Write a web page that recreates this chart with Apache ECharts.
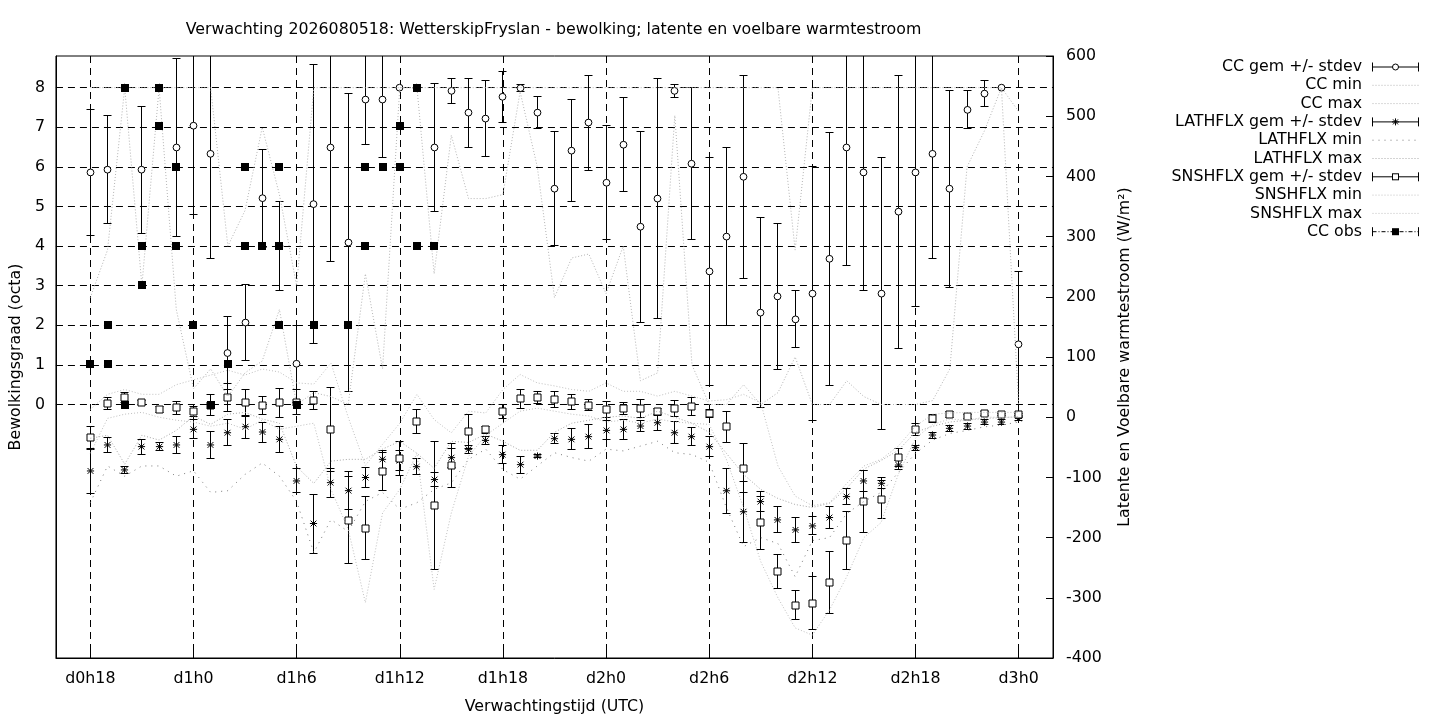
<!DOCTYPE html>
<html>
<head>
<meta charset="utf-8">
<script src="https://cdn.jsdelivr.net/npm/echarts@6/dist/echarts.min.js"></script>
<style>
html,body{margin:0;padding:0;background:#fff;}
#chart{width:1440px;height:720px;}
</style>
</head>
<body>
<div id="chart"></div>
<script>
// ---------------- DATA ----------------
const titleText = 'Verwachting 2026080518: WetterskipFryslan - bewolking; latente en voelbare warmtestroom';
const hours = [18,19,20,21,22,23,24,25,26,27,28,29,30,31,32,33,34,35,36,37,38,39,40,41,42,43,44,45,
  46,47,48,49,50,51,52,53,54,55,56,57,58,59,60,61,62,63,64,65,66,67,68,69,70,71,72];
const xTickHours = [18,24,30,36,42,48,54,60,66,72];
const leftTicks = [0,1,2,3,4,5,6,7,8];

const ccMean = [5.86,5.93,8.00,5.93,8.00,6.49,7.04,6.33,1.30,2.07,
  5.21,4.00,1.03,5.06,6.49,4.09,7.70,7.70,8.00,8.00,
  6.49,7.92,7.37,7.22,7.77,7.99,7.37,5.45,6.41,7.12,
  5.60,6.56,4.49,5.20,7.92,6.08,3.36,4.24,5.75,2.32,
  2.73,2.15,2.80,3.68,6.49,5.86,2.80,4.87,5.86,6.33,
  5.45,7.44,7.85,8.00,1.52];
const ccStd = [1.60,1.36,0,1.60,0,2.25,2.24,2.64,0.92,0.96,
  1.24,1.12,0.97,3.52,2.87,3.76,1.14,1.47,0,0,
  1.62,0.32,0.87,0.97,0.65,0.08,0.40,1.44,1.29,1.20,
  1.44,1.19,2.41,3.04,0.17,1.92,2.87,2.24,2.56,2.39,
  1.85,0.72,3.20,3.20,2.98,2.97,3.43,3.45,3.39,2.64,
  2.49,0.48,0.33,0,1.85];
const ccMin = [2.7,3.9,8.0,3.0,8.0,2.4,0.4,0.9,0.2,0.8,
  1.1,2.4,0.0,0.3,0.2,0.0,3.3,0.9,8.0,8.0,
  3.3,6.8,5.2,5.2,5.3,7.9,6.0,2.7,3.7,3.8,
  2.8,4.0,0.6,0.8,7.3,1.0,0.0,0.0,0.5,0.0,
  0.3,1.2,0.0,0.0,0.6,0.2,0.0,0.0,0.0,0.1,
  0.9,6.0,6.9,8.0,0.0];
const ccMax = [8,8,8,8,8,8,8,8,4.0,4.9,
  7.0,5.3,3.0,8,8,8,8,8,8,8,
  8,8,8,8,8,8,8,8,8,8,
  8,8,8,8,8,8,8,8,8,8,
  8,3.9,8,8,8,8,8,8,8,8,
  8,8,8,8,7.4];

const lathMean = [-89.3,-46.1,-87.6,-48.9,-48.9,-46.1,-20.2,-46.1,-25.8,-15.8,
  -24.6,-36.8,-105.9,-176.6,-108.7,-122.0,-100.2,-70.0,-72.0,-82.2,
  -103.6,-67.2,-53.3,-38.5,-62.2,-78.8,-64.5,-35.7,-36.8,-32.3,
  -21.9,-20.2,-14.7,-9.2,-25.8,-32.3,-48.9,-122.2,-157.0,-140.2,
  -170.6,-187.2,-180.6,-166.7,-131.9,-105.9,-109.8,-79.5,-50.6,-29.6,
  -18.5,-14.7,-8.1,-8.1,-2.0];
const lathStd = [36.8,12.5,6,12.5,7,14.6,16,22,22,18.8,
  16.6,21.5,20,49,24,32,17,15,17,13.3,
  12,16,7,7,14.6,14,3,8,17.4,19.4,
  15.8,16.5,9,13.3,18,14.7,16.6,37.3,50.6,16.6,
  21.5,21.3,15,18,13,18,9,7,4,5,
  5,5,4,4,3];
const lathMin = [-142,-81,-98,-81,-81,-98,-89,-125,-122,-95,
  -76,-98,-140,-225,-170,-190,-140,-125,-153,-142,
  -120,-109,-70,-53,-87,-103,-81,-59,-67,-73,
  -53,-56,-48,-40,-59,-62,-75,-150,-215,-200,
  -210,-265,-205,-200,-160,-140,-125,-92,-60,-38,
  -27,-22,-16,-13,-8];
const lathMax = [-35,-30,-78,-30,-38,-22,2,-12,5,8,
  -3,-10,-82,-110,-73,-70,-70,-53,-40,-60,
  -85,-40,-42,-28,-40,-55,-55,-25,-10,-5,
  0,2,-2,10,0,-10,-25,-60,-95,-120,
  -135,-145,-150,-143,-118,-86,-72,-55,-25,-15,
  -8,-5,-2,-1,1];

const snshMean = [-34.0,22.9,32.3,24.5,12.9,15.7,9.1,20.1,32.3,23.9,
  19.5,23.9,25.1,28.4,-20.2,-171.0,-184.3,-90.4,-68.8,-7.5,
  -146.3,-80.4,-24.1,-20.7,9.1,30.6,32.3,29.0,25.6,19.6,
  12.9,14.6,14.6,9.1,14.6,17.4,6.3,-15.8,-85.0,-175.0,
  -256.0,-312.3,-309.0,-274.4,-204.3,-140.2,-136.9,-67.2,-20.2,-2.0,
  4.6,0.8,5.7,4.1,4.1];
const snshStd = [19,9.7,8,4,5,11,8.3,17,23,22.7,
  14.4,24.3,20.7,15,70,72,52.5,31.5,28,19.7,
  106,36.5,28.4,6,12,15.7,10,13,12,9,
  13,10,14.6,6,13,15,6,26,40.6,44,
  28,24.4,44,51,48,52,32,15,10,7,
  5,3,3,2,2];
const snshMin = [-60,-2,5,8,0,-5,-8,-15,-10,-20,
  -5,-20,-15,-10,-120,-186,-308,-159,-120,-60,
  -286,-159,-65,-30,-10,10,15,10,5,2,
  -8,-5,-10,-3,-8,-10,-12,-70,-150,-240,
  -300,-350,-362,-320,-265,-200,-175,-95,-35,-12,
  -3,-5,0,0,0];
const snshMax = [13,38,46,38,38,54,62,70,78,70,
  80,75,57,55,90,0,-80,-45,-10,38,
  -4,-26,10,7,46,71,57,52,46,43,
  57,43,43,35,43,35,27,29,38,24,
  -81,-131,-147,-142,-110,-81,-70,-48,-15,5,
  7,8,8,8,8];

const ccObsHour  = [18,19,19,20,20,21,21,22,22,23,23,24,25,26,27,27,28,29,29,29,30,31,33,34,34,35,36,36,37,37,38];
const ccObsValue = [1.03,2,1.03,8,0,4,3.03,8,7.03,6,4,2,0,1.03,6,4,4,6,4,2,0,2,2,6,4,6,7.03,6,8,4,4];

const seriesNames = ['CC gem +/- stdev','CC min','CC max','LATHFLX gem +/- stdev','LATHFLX min','LATHFLX max',
  'SNSHFLX gem +/- stdev','SNSHFLX min','SNSHFLX max','CC obs'];

// ---------------- STYLE / RENDERING ----------------
const FONT = 'DejaVu Sans';
const FS = 15.8;

function errData(mean, sd){ return hours.map((h,i)=>[h, mean[i], sd[i]]); }
function lineData(arr){ return hours.map((h,i)=>[h, arr[i]]); }

function crisp(v){ return Math.round(v - 0.5) + 0.5; }

function makeErrRender(kind){
  return function(params, api){
    const x = api.value(0), m = api.value(1), s = api.value(2);
    const c = api.coord([x, m]);
    const top = api.coord([x, m + s])[1];
    const bot = api.coord([x, m - s])[1];
    const cs = params.coordSys;
    const y0 = cs.y, y1 = cs.y + cs.height;
    const cx = crisp(c[0]), cy = c[1];
    const st = {stroke:'#000', lineWidth:1, fill:null};
    const kids = [];
    if (s > 0) {
      const a = Math.max(top, y0), b = Math.min(bot, y1);
      kids.push({type:'line', shape:{x1:cx, y1:a, x2:cx, y2:b}, style:st});
      if (top >= y0) kids.push({type:'line', shape:{x1:cx-4, y1:crisp(top), x2:cx+4, y2:crisp(top)}, style:st});
      if (bot <= y1) kids.push({type:'line', shape:{x1:cx-4, y1:crisp(bot), x2:cx+4, y2:crisp(bot)}, style:st});
    }
    if (kind === 'circle') {
      kids.push({type:'circle', shape:{cx:cx, cy:cy, r:3.4}, style:{fill:'#fff', stroke:'#000', lineWidth:1}});
    } else if (kind === 'square') {
      kids.push({type:'rect', shape:{x:cx-3.5, y:crisp(cy)-3.5, width:7, height:7}, style:{fill:'#fff', stroke:'#000', lineWidth:1}});
    } else if (kind === 'star') {
      const k = 3.6, d = 2.9;
      kids.push({type:'line', shape:{x1:cx-k, y1:cy, x2:cx+k, y2:cy}, style:st});
      kids.push({type:'line', shape:{x1:cx, y1:cy-k, x2:cx, y2:cy+k}, style:st});
      kids.push({type:'line', shape:{x1:cx-d, y1:cy-d, x2:cx+d, y2:cy+d}, style:st});
      kids.push({type:'line', shape:{x1:cx-d, y1:cy+d, x2:cx+d, y2:cy-d}, style:st});
    }
    return {type:'group', children:kids};
  };
}

function obsRender(params, api){
  const c = api.coord([api.value(0), api.value(1)]);
  const x = Math.round(c[0]) - 4, y = Math.round(c[1]) - 4;
  return {type:'rect', shape:{x:x, y:y, width:8, height:8}, style:{fill:'#000', stroke:null}};
}

function svgIcon(inner){
  const svg = "<svg xmlns='http://www.w3.org/2000/svg' width='52' height='12' viewBox='0 0 52 12'>" + inner + "</svg>";
  return 'image://data:image/svg+xml;charset=utf-8,' + encodeURIComponent(svg);
}
const capsPath = "<path d='M5.5 6H51.5M5.5 1.5V10.5M51.5 1.5V10.5' stroke='#000' stroke-width='1' fill='none'/>";
const iconCircle = svgIcon(capsPath + "<circle cx='28.5' cy='6' r='3' fill='#fff' stroke='#000' stroke-width='1'/>");
const iconStar = svgIcon(capsPath + "<path d='M25 6H32M28.5 2.5V9.5M26 3.5L31 8.5M31 3.5L26 8.5' stroke='#000' stroke-width='1'/>");
const iconSquare = svgIcon(capsPath + "<rect x='25.5' y='3' width='6' height='6' fill='#fff' stroke='#000' stroke-width='1'/>");
function dotIcon(color, dash){
  return svgIcon("<path d='M5.5 6H51.5' stroke='" + color + "' stroke-width='1' stroke-dasharray='" + dash + "'/>");
}
const iconObs = svgIcon("<path d='M5.5 1.5V10.5M51.5 1.5V10.5' stroke='#000' stroke-width='1'/>" +
  "<path d='M5.5 6H51.5' stroke='#000' stroke-width='1' stroke-dasharray='4 2 1 2'/>" +
  "<rect x='25' y='2.5' width='7' height='7' fill='#000'/>");

const CC_DOT = '#b4b4b4', LAT_MIN = '#7a7a7a', LAT_MAX = '#a8a8a8', SN_DOT = '#c0c0c0';

function dotted(name, arr, yIdx, color, dash, z){
  return {
    name: name, type:'line', yAxisIndex: yIdx, data: lineData(arr),
    symbol:'none', showSymbol:false, silent:true, z:z,
    lineStyle:{color:color, width:1, type:dash}
  };
}

const chart = echarts.init(document.getElementById('chart'), null, {renderer:'canvas'});
const txt = {color:'#000', fontFamily:FONT, fontSize:FS};

const option = {
  animation:false,
  backgroundColor:'#fff',
  textStyle:{fontFamily:FONT, color:'#000'},
  grid:{left:54, right:387, top:56, bottom:61, show:true, borderColor:'#000', borderWidth:1, backgroundColor:'transparent'},
  graphic:[{
    type:'text', x:553.5, y:30, z:10,
    style:{text:titleText, align:'center', verticalAlign:'middle', fill:'#000', font: FS + 'px "' + FONT + '"'}
  }],
  legend:{
    orient:'vertical', right:21, top:59, align:'right',
    itemWidth:52, itemHeight:12, itemGap:2.3, padding:0,
    selectedMode:false,
    textStyle:{color:'#000', fontFamily:FONT, fontSize:FS},
    data:[
      {name:seriesNames[0], icon:iconCircle},
      {name:seriesNames[1], icon:dotIcon(CC_DOT,'1 2')},
      {name:seriesNames[2], icon:dotIcon(CC_DOT,'1 2')},
      {name:seriesNames[3], icon:iconStar},
      {name:seriesNames[4], icon:dotIcon(LAT_MIN,'1 5')},
      {name:seriesNames[5], icon:dotIcon(LAT_MAX,'1 2')},
      {name:seriesNames[6], icon:iconSquare},
      {name:seriesNames[7], icon:dotIcon(SN_DOT,'1 2')},
      {name:seriesNames[8], icon:dotIcon(SN_DOT,'1 2')},
      {name:seriesNames[9], icon:iconObs}
    ]
  },
  xAxis:{
    type:'value', min:16, max:74,
    axisLine:{show:true, onZero:false, lineStyle:{color:'#000', width:1}},
    axisTick:{show:true, inside:true, length:7, customValues:xTickHours, lineStyle:{color:'#000'}},
    axisLabel:{customValues:xTickHours, margin:13, color:'#000', fontFamily:FONT, fontSize:FS,
      formatter:function(v){ return 'd' + Math.floor(v/24) + 'h' + (v % 24); }},
    splitLine:{show:true, lineStyle:{color:'#000', width:1, type:[7,5]}},
    name:'Verwachtingstijd (UTC)', nameLocation:'middle', nameGap:41,
    nameTextStyle:txt
  },
  yAxis:[{
    type:'value', min:-6.4, max:8.8, position:'left',
    axisLine:{show:true, onZero:false, lineStyle:{color:'#000', width:1}},
    axisTick:{show:true, inside:true, length:7, customValues:leftTicks, lineStyle:{color:'#000'}},
    axisLabel:{customValues:leftTicks, margin:11, color:'#000', fontFamily:FONT, fontSize:FS},
    splitLine:{show:true, lineStyle:{color:'#000', width:1, type:[7,5]}},
    name:'Bewolkingsgraad (octa)', nameLocation:'middle', nameRotate:90, nameGap:27,
    nameTextStyle:txt
  },{
    type:'value', min:-400, max:600, interval:100, position:'right',
    axisLine:{show:true, onZero:false, lineStyle:{color:'#000', width:1}},
    axisTick:{show:true, inside:true, length:7, lineStyle:{color:'#000'}},
    axisLabel:{margin:13, color:'#000', fontFamily:FONT, fontSize:FS, showMinLabel:true, showMaxLabel:true},
    splitLine:{show:false},
    name:'Latente en Voelbare warmtestroom (W/m²)', nameLocation:'middle', nameRotate:90, nameGap:64,
    nameTextStyle:txt
  }],
  series:[
    {name:seriesNames[0], type:'custom', yAxisIndex:0, z:3, renderItem:makeErrRender('circle'),
      data:errData(ccMean, ccStd), encode:{x:0, y:1}, silent:true},
    dotted(seriesNames[1], ccMin, 0, CC_DOT, [1,2], 3),
    dotted(seriesNames[2], ccMax, 0, CC_DOT, [1,2], 3),
    {name:seriesNames[3], type:'custom', yAxisIndex:1, z:3, renderItem:makeErrRender('star'),
      data:errData(lathMean, lathStd), encode:{x:0, y:1}, silent:true},
    dotted(seriesNames[4], lathMin, 1, LAT_MIN, [1,5], 3),
    dotted(seriesNames[5], lathMax, 1, LAT_MAX, [1,2], 3),
    {name:seriesNames[6], type:'custom', yAxisIndex:1, z:3, renderItem:makeErrRender('square'),
      data:errData(snshMean, snshStd), encode:{x:0, y:1}, silent:true},
    dotted(seriesNames[7], snshMin, 1, SN_DOT, [1,2], 3),
    dotted(seriesNames[8], snshMax, 1, SN_DOT, [1,2], 3),
    {name:seriesNames[9], type:'custom', yAxisIndex:0, z:4, silent:true, renderItem:obsRender,
      data: ccObsHour.map((h,i)=>[h, ccObsValue[i]]), encode:{x:0, y:1}}
  ]
};
chart.setOption(option);
</script>
</body>
</html>
